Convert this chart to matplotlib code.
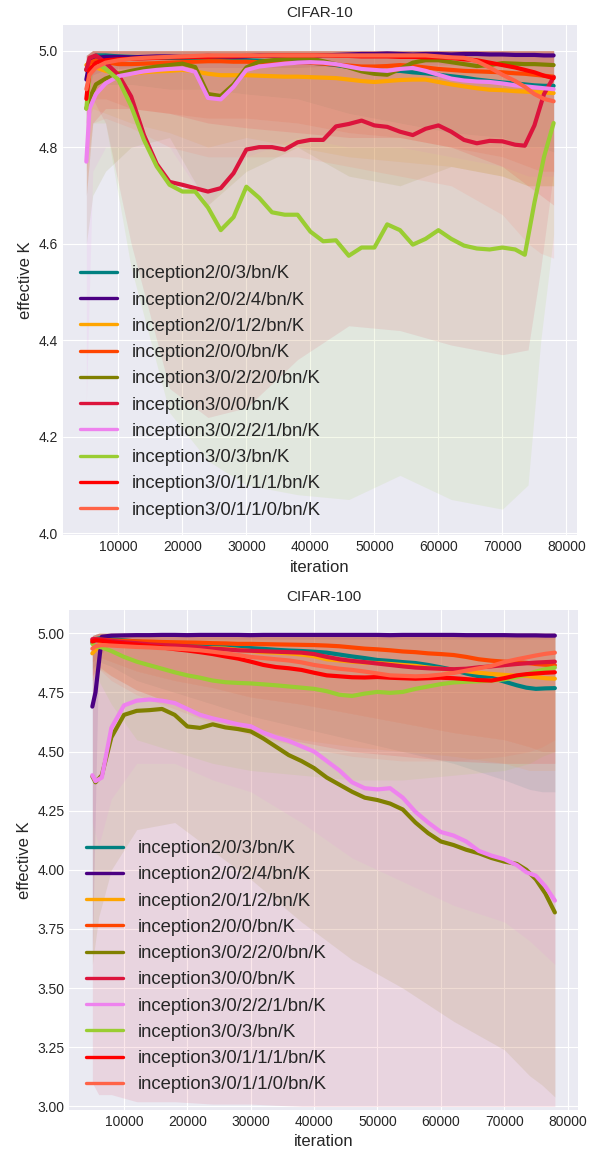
"""
Effective K per BN layer during training, CIFAR-10 (top) and CIFAR-100 (bottom).
Mean curve per layer + shaded min/max range across runs.
"""

import matplotlib.pyplot as plt

plt.style.use("seaborn-v0_8-darkgrid")

LABELS = [
    "inception2/0/3/bn/K",
    "inception2/0/2/4/bn/K",
    "inception2/0/1/2/bn/K",
    "inception2/0/0/bn/K",
    "inception3/0/2/2/0/bn/K",
    "inception3/0/0/bn/K",
    "inception3/0/2/2/1/bn/K",
    "inception3/0/3/bn/K",
    "inception3/0/1/1/1/bn/K",
    "inception3/0/1/1/0/bn/K",
]
COLORS = ["teal", "indigo", "orange", "orangered", "olive",
          "crimson", "violet", "yellowgreen", "red", "tomato"]

# iterations where the mean curves were read
ITERS = [5000, 5500, 6500, 8000, 10000, 12000, 14000, 16000, 18000, 20000,
         22000, 24000, 26000, 28000, 30000, 32000, 34000, 36000, 38000, 40000,
         42000, 44000, 46000, 48000, 50000, 52000, 54000, 56000, 58000, 60000,
         62000, 64000, 66000, 68000, 70000, 72000, 73500, 75000, 76500, 78000]

# iterations where the shaded ranges were read
BAND_ITERS = [5000, 6000, 8000, 12000, 18000, 24000, 30000, 38000,
              46000, 54000, 62000, 70000, 74000, 76000, 78000]

# ---------------- CIFAR-10 ----------------
c10_teal = [4.96, 4.98, 4.99, 4.99, 4.988, 4.987, 4.986, 4.985, 4.985, 4.984,
            4.983, 4.982, 4.982, 4.981, 4.98, 4.979, 4.978, 4.977, 4.976, 4.975,
            4.973, 4.97, 4.966, 4.962, 4.96, 4.957, 4.958, 4.955, 4.953, 4.95,
            4.947, 4.944, 4.94, 4.937, 4.934, 4.932, 4.93, 4.928, 4.927, 4.927]
c10_indigo = [4.94, 4.975, 4.985, 4.987, 4.987, 4.986, 4.987, 4.988, 4.988, 4.987,
              4.988, 4.989, 4.988, 4.987, 4.988, 4.99, 4.989, 4.988, 4.987, 4.988,
              4.99, 4.991, 4.992, 4.993, 4.993, 4.994, 4.993, 4.992, 4.993, 4.993,
              4.992, 4.993, 4.993, 4.992, 4.992, 4.991, 4.991, 4.991, 4.99, 4.99]
c10_orange = [4.97, 4.975, 4.965, 4.958, 4.953, 4.952, 4.955, 4.957, 4.958, 4.96,
              4.957, 4.952, 4.949, 4.949, 4.949, 4.948, 4.947, 4.946, 4.946, 4.945,
              4.944, 4.943, 4.94, 4.937, 4.935, 4.937, 4.939, 4.94, 4.94, 4.935,
              4.93, 4.926, 4.922, 4.919, 4.918, 4.916, 4.915, 4.914, 4.913, 4.912]
c10_orangered = [4.96, 4.975, 4.98, 4.976, 4.972, 4.972, 4.973, 4.974, 4.975, 4.976,
                 4.977, 4.978, 4.978, 4.977, 4.977, 4.976, 4.976, 4.975, 4.975, 4.975,
                 4.973, 4.971, 4.969, 4.967, 4.967, 4.968, 4.97, 4.968, 4.965, 4.962,
                 4.96, 4.958, 4.957, 4.956, 4.955, 4.953, 4.952, 4.95, 4.948, 4.946]
c10_olive = [4.88, 4.90, 4.93, 4.942, 4.952, 4.958, 4.963, 4.967, 4.97, 4.973,
             4.966, 4.91, 4.906, 4.93, 4.965, 4.977, 4.98, 4.982, 4.984, 4.984,
             4.978, 4.972, 4.965, 4.957, 4.952, 4.95, 4.962, 4.975, 4.98, 4.98,
             4.976, 4.972, 4.968, 4.97, 4.974, 4.973, 4.972, 4.972, 4.971, 4.97]
c10_crimson = [4.96, 4.985, 4.99, 4.975, 4.95, 4.905, 4.825, 4.765, 4.728, 4.722,
               4.715, 4.708, 4.715, 4.746, 4.795, 4.80, 4.80, 4.795, 4.81, 4.815,
               4.815, 4.843, 4.848, 4.855, 4.845, 4.842, 4.832, 4.825, 4.838, 4.845,
               4.832, 4.815, 4.808, 4.813, 4.812, 4.805, 4.803, 4.845, 4.91, 4.945]
c10_violet = [4.77, 4.88, 4.91, 4.932, 4.947, 4.952, 4.957, 4.96, 4.962, 4.963,
              4.956, 4.902, 4.899, 4.925, 4.96, 4.967, 4.97, 4.973, 4.975, 4.976,
              4.975, 4.972, 4.967, 4.962, 4.96, 4.958, 4.962, 4.964, 4.958, 4.95,
              4.942, 4.938, 4.936, 4.935, 4.932, 4.928, 4.926, 4.924, 4.922, 4.92]
c10_yellowgreen = [4.88, 4.95, 4.975, 4.962, 4.94, 4.885, 4.815, 4.76, 4.722, 4.708,
                   4.708, 4.675, 4.628, 4.655, 4.718, 4.695, 4.665, 4.66, 4.66, 4.625,
                   4.605, 4.607, 4.575, 4.592, 4.592, 4.64, 4.628, 4.598, 4.61, 4.628,
                   4.61, 4.596, 4.59, 4.588, 4.592, 4.588, 4.577, 4.685, 4.78, 4.85]
c10_red = [4.90, 4.96, 4.975, 4.98, 4.982, 4.983, 4.984, 4.985, 4.986, 4.986,
           4.987, 4.987, 4.988, 4.988, 4.989, 4.989, 4.99, 4.99, 4.99, 4.99,
           4.99, 4.989, 4.989, 4.988, 4.988, 4.988, 4.987, 4.987, 4.986, 4.986,
           4.985, 4.982, 4.98, 4.975, 4.97, 4.965, 4.96, 4.955, 4.948, 4.943]
c10_tomato = [4.92, 4.95, 4.965, 4.975, 4.98, 4.983, 4.985, 4.986, 4.987, 4.988,
              4.989, 4.99, 4.99, 4.99, 4.99, 4.99, 4.99, 4.99, 4.99, 4.99,
              4.99, 4.99, 4.99, 4.99, 4.99, 4.99, 4.99, 4.99, 4.99, 4.988,
              4.986, 4.985, 4.978, 4.965, 4.95, 4.937, 4.925, 4.91, 4.9, 4.895]

c10_lo_teal = [4.85, 4.92, 4.93, 4.93, 4.92, 4.92, 4.91, 4.90, 4.87, 4.85, 4.83, 4.82, 4.80, 4.80, 4.79]
c10_lo_indigo = [4.90, 4.95, 4.96, 4.965, 4.965, 4.965, 4.965, 4.965, 4.97, 4.97, 4.97, 4.97, 4.97, 4.97, 4.97]
c10_lo_orange = [4.85, 4.88, 4.87, 4.85, 4.83, 4.80, 4.82, 4.80, 4.78, 4.77, 4.76, 4.74, 4.72, 4.72, 4.72]
c10_lo_orangered = [4.85, 4.90, 4.90, 4.88, 4.87, 4.86, 4.86, 4.85, 4.83, 4.82, 4.80, 4.78, 4.76, 4.75, 4.75]
c10_lo_olive = [4.60, 4.70, 4.75, 4.80, 4.82, 4.68, 4.75, 4.80, 4.74, 4.72, 4.76, 4.74, 4.72, 4.72, 4.72]
c10_lo_crimson = [4.85, 4.90, 4.85, 4.60, 4.30, 4.24, 4.26, 4.36, 4.43, 4.42, 4.39, 4.37, 4.38, 4.55, 4.75]
c10_lo_violet = [4.27, 4.75, 4.80, 4.80, 4.80, 4.68, 4.78, 4.82, 4.80, 4.80, 4.78, 4.76, 4.74, 4.74, 4.74]
c10_lo_yellowgreen = [4.70, 4.85, 4.85, 4.55, 4.25, 4.15, 4.10, 4.08, 4.07, 4.12, 4.07, 4.05, 4.10, 4.40, 4.62]
c10_lo_red = [4.70, 4.85, 4.88, 4.88, 4.87, 4.85, 4.84, 4.83, 4.82, 4.82, 4.80, 4.76, 4.72, 4.70, 4.68]
c10_lo_tomato = [4.75, 4.85, 4.86, 4.84, 4.80, 4.78, 4.78, 4.78, 4.76, 4.74, 4.72, 4.66, 4.60, 4.58, 4.57]
c10_hi = [4.99, 5.0, 5.0, 5.0, 5.0, 5.0, 5.0, 5.0, 5.0, 5.0, 5.0, 5.0, 5.0, 5.0, 5.0]

# ---------------- CIFAR-100 ----------------
c100_teal = [4.96, 4.975, 4.98, 4.975, 4.97, 4.965, 4.96, 4.957, 4.953, 4.95,
             4.947, 4.945, 4.942, 4.94, 4.937, 4.934, 4.93, 4.927, 4.925, 4.922,
             4.918, 4.91, 4.902, 4.895, 4.887, 4.883, 4.878, 4.874, 4.866, 4.856,
             4.845, 4.83, 4.818, 4.812, 4.796, 4.78, 4.77, 4.765, 4.767, 4.768]
c100_indigo = [4.69, 4.75, 4.985, 4.99, 4.991, 4.992, 4.992, 4.993, 4.993, 4.992,
               4.993, 4.993, 4.993, 4.993, 4.992, 4.993, 4.993, 4.993, 4.993, 4.993,
               4.993, 4.993, 4.993, 4.993, 4.993, 4.992, 4.993, 4.993, 4.993, 4.993,
               4.993, 4.992, 4.992, 4.992, 4.992, 4.991, 4.991, 4.991, 4.99, 4.99]
c100_orange = [4.915, 4.93, 4.965, 4.96, 4.955, 4.952, 4.948, 4.945, 4.942, 4.94,
               4.938, 4.937, 4.935, 4.93, 4.925, 4.92, 4.918, 4.915, 4.91, 4.903,
               4.89, 4.885, 4.88, 4.876, 4.874, 4.87, 4.866, 4.862, 4.855, 4.85,
               4.845, 4.84, 4.833, 4.828, 4.824, 4.82, 4.82, 4.815, 4.81, 4.808]
c100_orangered = [4.97, 4.975, 4.973, 4.97, 4.968, 4.966, 4.965, 4.963, 4.962, 4.961,
                  4.96, 4.958, 4.957, 4.955, 4.955, 4.954, 4.953, 4.952, 4.951, 4.95,
                  4.948, 4.945, 4.94, 4.935, 4.932, 4.928, 4.923, 4.92, 4.915, 4.912,
                  4.908, 4.9, 4.89, 4.884, 4.88, 4.877, 4.875, 4.87, 4.867, 4.865]
c100_olive = [4.395, 4.37, 4.40, 4.56, 4.655, 4.672, 4.675, 4.68, 4.655, 4.606,
              4.60, 4.615, 4.602, 4.595, 4.585, 4.555, 4.52, 4.485, 4.46, 4.43,
              4.39, 4.36, 4.33, 4.305, 4.295, 4.28, 4.255, 4.20, 4.155, 4.12,
              4.105, 4.085, 4.07, 4.05, 4.035, 4.025, 4.0, 3.96, 3.90, 3.82]
c100_crimson = [4.975, 4.975, 4.972, 4.968, 4.962, 4.958, 4.953, 4.95, 4.948, 4.945,
                4.94, 4.935, 4.932, 4.928, 4.926, 4.924, 4.922, 4.92, 4.918, 4.912,
                4.90, 4.89, 4.883, 4.878, 4.872, 4.866, 4.86, 4.855, 4.852, 4.85,
                4.848, 4.85, 4.856, 4.86, 4.865, 4.87, 4.873, 4.876, 4.878, 4.88]
c100_violet = [4.40, 4.375, 4.39, 4.60, 4.695, 4.715, 4.72, 4.715, 4.705, 4.68,
               4.655, 4.64, 4.628, 4.615, 4.607, 4.58, 4.56, 4.545, 4.522, 4.50,
               4.46, 4.42, 4.37, 4.345, 4.34, 4.345, 4.305, 4.245, 4.20, 4.16,
               4.145, 4.12, 4.08, 4.06, 4.045, 4.02, 3.99, 3.975, 3.93, 3.87]
c100_yellowgreen = [4.955, 4.945, 4.94, 4.925, 4.90, 4.88, 4.865, 4.85, 4.835, 4.822,
                    4.812, 4.80, 4.793, 4.79, 4.788, 4.784, 4.78, 4.775, 4.77, 4.765,
                    4.755, 4.74, 4.735, 4.745, 4.752, 4.748, 4.752, 4.765, 4.775, 4.785,
                    4.792, 4.795, 4.797, 4.80, 4.805, 4.815, 4.825, 4.838, 4.848, 4.855]
c100_red = [4.965, 4.97, 4.968, 4.962, 4.957, 4.952, 4.946, 4.94, 4.933, 4.927,
            4.92, 4.912, 4.902, 4.893, 4.88, 4.866, 4.857, 4.852, 4.845, 4.833,
            4.822, 4.818, 4.814, 4.813, 4.815, 4.812, 4.81, 4.808, 4.81, 4.812,
            4.81, 4.806, 4.802, 4.80, 4.81, 4.822, 4.827, 4.83, 4.833, 4.835]
c100_tomato = [4.935, 4.945, 4.95, 4.948, 4.945, 4.942, 4.94, 4.937, 4.935, 4.932,
               4.928, 4.922, 4.915, 4.908, 4.90, 4.895, 4.89, 4.885, 4.877, 4.866,
               4.858, 4.85, 4.845, 4.838, 4.83, 4.822, 4.82, 4.818, 4.82, 4.825,
               4.832, 4.842, 4.852, 4.862, 4.878, 4.89, 4.898, 4.906, 4.913, 4.918]

c100_lo_teal = [4.85, 4.88, 4.86, 4.80, 4.75, 4.70, 4.65, 4.60, 4.55, 4.50, 4.45, 4.38, 4.34, 4.33, 4.33]
c100_lo_indigo = [3.65, 4.90, 4.96, 4.97, 4.97, 4.975, 4.975, 4.975, 4.975, 4.975, 4.975, 4.975, 4.975, 4.975, 4.975]
c100_lo_orange = [4.80, 4.85, 4.82, 4.76, 4.70, 4.65, 4.60, 4.55, 4.52, 4.50, 4.48, 4.45, 4.42, 4.42, 4.42]
c100_lo_orangered = [4.88, 4.90, 4.88, 4.84, 4.80, 4.77, 4.73, 4.70, 4.66, 4.62, 4.58, 4.55, 4.52, 4.50, 4.50]
c100_lo_olive = [3.60, 3.80, 4.00, 4.17, 4.20, 4.08, 3.96, 3.78, 3.62, 3.50, 3.36, 3.24, 3.13, 3.09, 3.04]
c100_lo_crimson = [3.10, 3.05, 3.05, 3.02, 3.02, 3.01, 3.01, 3.0, 3.0, 3.0, 3.0, 3.0, 3.0, 3.0, 3.0]
c100_lo_violet = [4.20, 4.10, 4.30, 4.45, 4.45, 4.38, 4.33, 4.20, 4.05, 3.95, 3.85, 3.78, 3.70, 3.65, 3.60]
c100_lo_yellowgreen = [4.85, 4.80, 4.70, 4.55, 4.50, 4.45, 4.42, 4.40, 4.38, 4.38, 4.40, 4.42, 4.45, 4.48, 4.50]
c100_lo_red = [4.82, 4.86, 4.82, 4.76, 4.70, 4.64, 4.58, 4.54, 4.50, 4.48, 4.46, 4.45, 4.45, 4.45, 4.45]
c100_lo_tomato = [4.80, 4.85, 4.80, 4.74, 4.68, 4.62, 4.57, 4.52, 4.48, 4.46, 4.46, 4.48, 4.50, 4.52, 4.55]
c100_hi = [4.99, 5.0, 5.0, 5.0, 5.0, 5.0, 5.0, 5.0, 5.0, 5.0, 5.0, 5.0, 5.0, 5.0, 5.0]

C10_MEANS = [c10_teal, c10_indigo, c10_orange, c10_orangered, c10_olive,
             c10_crimson, c10_violet, c10_yellowgreen, c10_red, c10_tomato]
C10_LOWS = [c10_lo_teal, c10_lo_indigo, c10_lo_orange, c10_lo_orangered, c10_lo_olive,
            c10_lo_crimson, c10_lo_violet, c10_lo_yellowgreen, c10_lo_red, c10_lo_tomato]
C100_MEANS = [c100_teal, c100_indigo, c100_orange, c100_orangered, c100_olive,
              c100_crimson, c100_violet, c100_yellowgreen, c100_red, c100_tomato]
C100_LOWS = [c100_lo_teal, c100_lo_indigo, c100_lo_orange, c100_lo_orangered, c100_lo_olive,
             c100_lo_crimson, c100_lo_violet, c100_lo_yellowgreen, c100_lo_red, c100_lo_tomato]


def draw(ax, title, means, lows, high, ylim, yticks, yfmt):
    for label, color, low in zip(LABELS, COLORS, lows):
        ax.fill_between(BAND_ITERS, low, high, color=color, alpha=0.1, lw=0)
    for label, color, mean in zip(LABELS, COLORS, means):
        ax.plot(ITERS, mean, color=color, lw=3, label=label)
    ax.set_title(title, fontsize=11)
    ax.set_xlabel("iteration", fontsize=12)
    ax.set_ylabel("effective K", fontsize=12)
    ax.set_ylim(*ylim)
    ax.set_yticks(yticks)
    ax.set_yticklabels([yfmt.format(t) for t in yticks])
    ax.set_xticks([10000, 20000, 30000, 40000, 50000, 60000, 70000, 80000])
    ax.tick_params(labelsize=10)
    leg = ax.legend(loc="lower left", fontsize=13.3, labelspacing=0.5)
    for h in leg.get_lines():
        h.set_linewidth(2.4)


fig = plt.figure(figsize=(5.93, 11.53), dpi=100)
ax1 = fig.add_axes([0.1062, 0.5358, 0.8668, 0.4425])
ax2 = fig.add_axes([0.1167, 0.0373, 0.8580, 0.4340])

draw(ax1, "CIFAR-10", C10_MEANS, C10_LOWS, c10_hi, (3.996, 5.053),
     [4.0, 4.2, 4.4, 4.6, 4.8, 5.0], "{:.1f}")
draw(ax2, "CIFAR-100", C100_MEANS, C100_LOWS, c100_hi, (2.985, 5.1),
     [3.0, 3.25, 3.5, 3.75, 4.0, 4.25, 4.5, 4.75, 5.0], "{:.2f}")

fig.savefig("out.png", dpi=100)
